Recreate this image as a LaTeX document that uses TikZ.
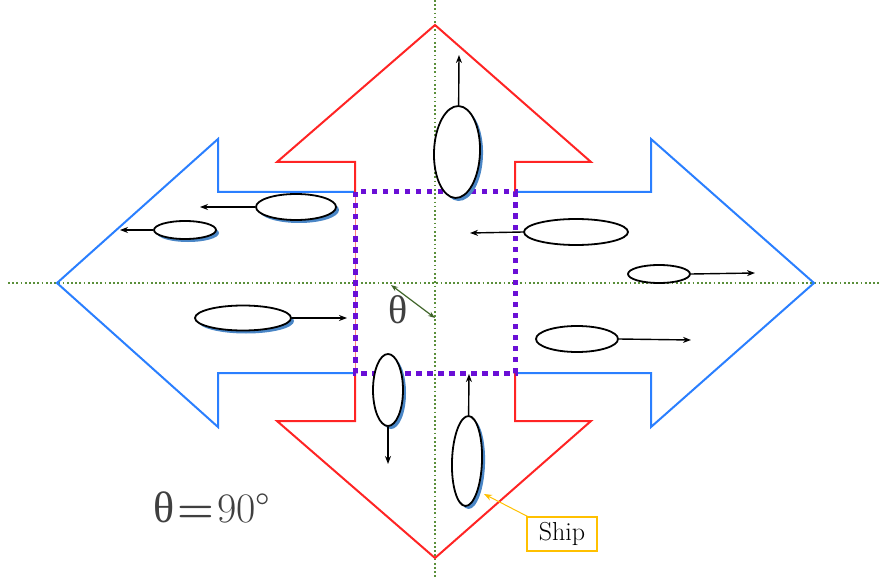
\documentclass[tikz,border=0pt]{standalone}
\usepackage{fontspec}
\newfontfamily\grk{Liberation Serif}
\usetikzlibrary{shapes.geometric,shadows,arrows.meta}
\definecolor{ared}{HTML}{FF2424}
\definecolor{ablue}{HTML}{2A7FFF}
\definecolor{apurple}{HTML}{6A0FD6}
\definecolor{agreen}{HTML}{5A8F3A}
\definecolor{shblue}{HTML}{4A86C6}
\definecolor{ayellow}{HTML}{FFC000}
\definecolor{tgray}{HTML}{404040}
\tikzset{
  ship/.style={ellipse, draw=black, fill=white, line width=1.8pt, inner sep=0pt},
  shad/.style={drop shadow={shadow xshift=3pt, shadow yshift=-3pt, fill=shblue, opacity=1}},
  mv/.style={-{Stealth[length=8pt,width=6pt]}, line width=1.4pt, black},
  axis/.style={agreen, line width=1.7pt, dash pattern=on 1.7pt off 2.5pt},
  outline/.style={line width=2pt, line join=miter},
}
\begin{document}
\begin{tikzpicture}[x=1pt,y=-1pt]
\useasboundingbox (0,0) rectangle (885,577);
% axes
\draw[axis] (8,283) -- (880,283);
\draw[axis] (435,0) -- (435,577);
% blue horizontal double arrow
\draw[outline, ablue] (355,192) -- (218,192) -- (218,139) -- (57,283) -- (218,427) -- (218,373) -- (355,373);
\draw[outline, ablue] (515,192) -- (651,192) -- (651,139) -- (814,283) -- (651,427) -- (651,373) -- (515,373);
% red vertical double arrow
\draw[outline, ared] (355,192) -- (355,162) -- (277,162) -- (435,25) -- (591,162) -- (515,162) -- (515,192);
\draw[outline, ared] (355,373) -- (355,421) -- (277,421) -- (435,558) -- (591,421) -- (515,421) -- (515,373);
\draw[ared!60, line width=1pt] (355,192) -- (355,373);
% purple dotted square
\draw[apurple, line width=5pt, dash pattern=on 5.5pt off 5.5pt] (355,192) rectangle (515,373);
% angle
\coordinate (t1) at (391,285);
\coordinate (t2) at (435,318);
\draw[agreen!70!black, line width=1.2pt, {Stealth[length=7pt,width=5pt]}-{Stealth[length=7pt,width=5pt]}] (t1) -- (t2);
\node[text=tgray, font=\grk\fontsize{40}{44}\selectfont] (th) at (398,310) {θ};
% ships
\node[ship, shad, minimum width=46pt, minimum height=92pt, rotate=-2] (s1) at (457,152) {};
\node[ship, shad, minimum width=80pt, minimum height=26pt] (s2) at (296,207) {};
\node[ship, shad, minimum width=62pt, minimum height=18pt] (s3) at (185,230) {};
\node[ship, shad, minimum width=96pt, minimum height=25pt] (s4) at (243,318) {};
\node[ship, minimum width=104pt, minimum height=26pt] (s5) at (576,232) {};
\node[ship, minimum width=62pt, minimum height=18pt] (s6) at (659,274) {};
\node[ship, minimum width=82pt, minimum height=26pt] (s7) at (577,339) {};
\node[ship, shad, minimum width=30pt, minimum height=72pt] (s8) at (388,390) {};
\node[ship, shad, minimum width=30pt, minimum height=90pt, rotate=-2] (s9) at (467,461) {};
\coordinate (e1) at (459,55);
\coordinate (e2) at (200,207);
\coordinate (e3) at (120,230);
\coordinate (e4) at (347,318);
\coordinate (e5) at (470,233);
\coordinate (e6) at (755,273);
\coordinate (e7) at (691,340);
\coordinate (e8) at (388,464);
\coordinate (e9) at (469,374);
\draw[mv] (s1.north) -- (e1);
\draw[mv] (s2.west) -- (e2);
\draw[mv] (s3.west) -- (e3);
\draw[mv] (s4.east) -- (e4);
\draw[mv] (s5.west) -- (e5);
\draw[mv] (s6.east) -- (e6);
\draw[mv] (s7.east) -- (e7);
\draw[mv] (s8.south) -- (e8);
\draw[mv] (s9.north) -- (e9);
% label
\node[draw=ayellow, line width=1.2pt, minimum width=70pt, minimum height=34pt, inner sep=2pt, font=\fontsize{26}{28}\selectfont] (lab) at (562,534) {Ship};
\coordinate (sp) at (484,494);
\draw[ayellow, line width=1pt, -{Stealth[length=8pt,width=6pt]}] (lab.north west) ++(3,1) -- (sp);
% angle value
\node[text=tgray, font=\fontsize{42}{46}\selectfont, inner sep=0pt] (val) at (212,507) {{\grk\fontsize{44}{48}\selectfont θ}\kern3pt{\bfseries=}\kern3pt90°};
\end{tikzpicture}
\end{document}
